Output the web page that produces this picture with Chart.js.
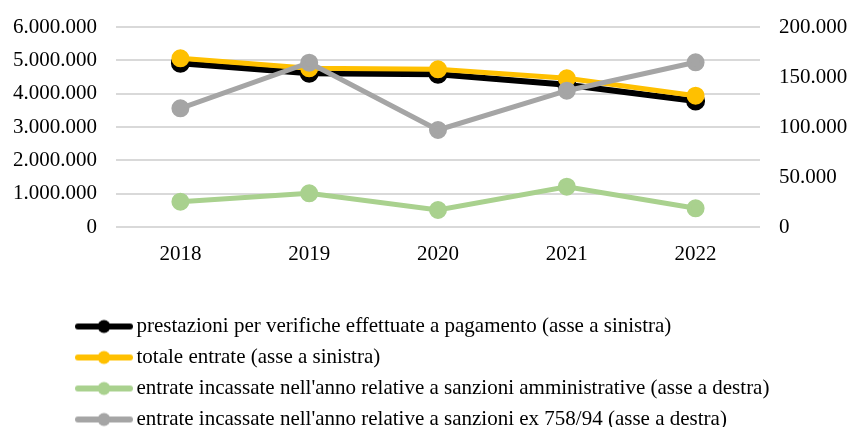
<!DOCTYPE html>
<html>
<head>
<meta charset="utf-8">
<style>
  html, body { margin: 0; padding: 0; background: #fff; overflow: hidden; }
  canvas { display: block; }
</style>
<script src="https://cdn.jsdelivr.net/npm/chart.js@4"></script>
</head>
<body>
<canvas id="chart" width="848" height="440"></canvas>
<script>
// ---------- Data ----------
var years = ['2018', '2019', '2020', '2021', '2022'];
var prestazioni = [4910000, 4610000, 4580000, 4270000, 3780000];   // asse a sinistra
var totaleEntrate = [5060000, 4760000, 4730000, 4460000, 3940000]; // asse a sinistra
var sanzioniAmm = [25300, 33700, 17000, 40300, 18700];             // asse a destra
var sanzioniEx = [118700, 164300, 97000, 136300, 164700];          // asse a destra

var leftTicks = [0, 1000000, 2000000, 3000000, 4000000, 5000000, 6000000];
var rightTicks = [0, 50000, 100000, 150000, 200000];

// ---------- Helpers ----------
function fmtDots(v) {
  return String(Math.round(v)).replace(/\B(?=(\d{3})+(?!\d))/g, '.');
}

// legend marker: thick line with a dot in the middle
function legendIcon(color) {
  var c = document.createElement('canvas');
  c.width = 58; c.height = 16;
  var g = c.getContext('2d');
  g.strokeStyle = color;
  g.lineWidth = 6;
  g.lineCap = 'round';
  g.beginPath(); g.moveTo(3, 8); g.lineTo(55, 8); g.stroke();
  g.fillStyle = color;
  g.beginPath(); g.arc(29, 8, 6.5, 0, Math.PI * 2); g.fill();
  return c;
}

function line(label, data, color, axis, width, order) {
  return {
    label: label, data: data, yAxisID: axis, order: order,
    borderColor: color, backgroundColor: color,
    pointBackgroundColor: color, pointBorderColor: color,
    borderWidth: width, pointRadius: 6.5, pointHoverRadius: 6.5,
    tension: 0, fill: false
  };
}

// fixed axis width, no extra vertical padding from the tick labels
function fixWidth(w) {
  return function (s) {
    s.width = w;
    s.paddingTop = 0;
    s.paddingBottom = 0;
  };
}

var font = { family: "'Liberation Serif', 'Times New Roman', serif", size: 21 };

// shift the bottom legend so it starts under the left axis labels
var legendShift = {
  id: 'legendShift',
  afterLayout: function (chart) {
    chart.legend.left = 72;
  }
};

new Chart(document.getElementById('chart'), {
  type: 'line',
  data: {
    labels: years,
    datasets: [
      line('prestazioni per verifiche effettuate a pagamento (asse a sinistra)', prestazioni, '#000000', 'y', 6, 4),
      line('totale entrate (asse a sinistra)', totaleEntrate, '#ffc000', 'y', 5, 3),
      line("entrate incassate nell'anno relative a sanzioni amministrative (asse a destra)", sanzioniAmm, '#a9d18e', 'y1', 5, 2),
      line("entrate incassate nell'anno relative a sanzioni ex 758/94 (asse a destra)", sanzioniEx, '#a5a5a5', 'y1', 5, 1)
    ]
  },
  options: {
    responsive: false,
    animation: false,
    layout: { padding: { top: 27, left: 0, right: 0, bottom: 0 } },
    scales: {
      x: {
        offset: true,
        grid: { display: false },
        border: { display: false },
        ticks: { color: '#000', font: font, padding: 7 },
        afterFit: function (s) { s.height = 79; }
      },
      y: {
        position: 'left',
        min: 0, max: 6000000,
        afterBuildTicks: function (s) { s.ticks = leftTicks.map(function (v) { return { value: v }; }); },
        afterFit: fixWidth(116),
        grid: { color: '#d9d9d9', lineWidth: 2, drawTicks: false },
        border: { display: false },
        ticks: { color: '#000', font: font, padding: 19, callback: fmtDots }
      },
      y1: {
        position: 'right',
        min: 0, max: 200000,
        afterBuildTicks: function (s) { s.ticks = rightTicks.map(function (v) { return { value: v }; }); },
        afterFit: fixWidth(88),
        grid: { display: false, drawTicks: false },
        border: { display: false },
        ticks: { color: '#000', font: font, padding: 19, callback: fmtDots }
      }
    },
    plugins: {
      tooltip: { enabled: false },
      legend: {
        position: 'bottom',
        align: 'start',
        labels: {
          color: '#000',
          font: font,
          padding: 10,
          usePointStyle: true,
          pointStyleWidth: 44,
          generateLabels: function (chart) {
            return chart.data.datasets.map(function (ds, i) {
              return {
                text: ds.label,
                pointStyle: legendIcon(ds.borderColor),
                fillStyle: ds.borderColor,
                strokeStyle: ds.borderColor,
                lineWidth: 0,
                fontColor: '#000',
                hidden: false,
                datasetIndex: i
              };
            });
          }
        }
      }
    }
  },
  plugins: [legendShift]
});
</script>
</body>
</html>
